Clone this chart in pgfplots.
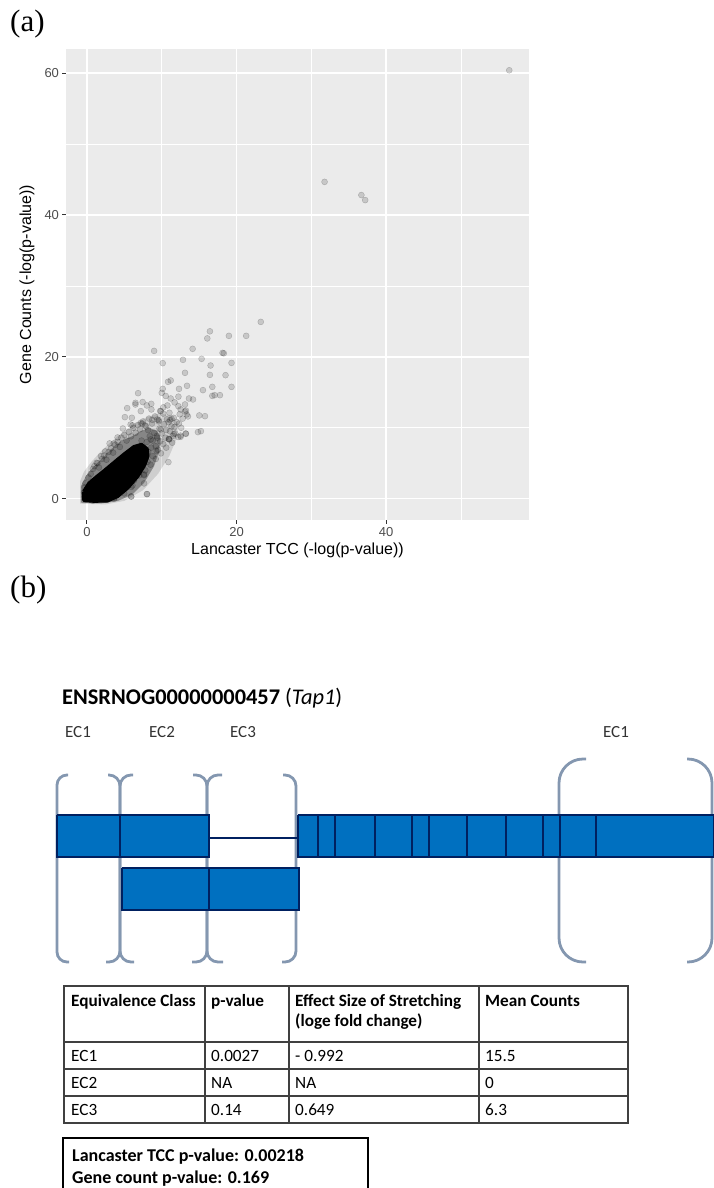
\documentclass[border=0pt]{standalone}
\usepackage{fontspec}
\usepackage{pgfplots}
\pgfplotsset{compat=1.18}
\setmainfont{Liberation Sans}
\newfontfamily\carlito{Carlito}
\newfontfamily\tnr{Liberation Serif}
\definecolor{panelbg}{HTML}{EBEBEB}
\definecolor{ticktext}{HTML}{4D4D4D}
\definecolor{exonfill}{HTML}{0070C0}
\definecolor{exonedge}{HTML}{002060}
\definecolor{bracket}{HTML}{8497B0}
\definecolor{tabline}{HTML}{404040}

\begin{document}
\begin{tikzpicture}[
  exon/.style={fill=exonfill, draw=exonedge, line width=2.6pt, line join=miter, mark=none},
  br/.style={draw=bracket, line width=2.8pt},
  tl/.style={draw=tabline, line width=1.3pt}]
\node[anchor=base west,font=\tnr\fontsize{31}{31}\selectfont,inner sep=0] at (10pt,-32pt) {(a)};

% ---- (a) scatter ----
\begin{axis}[
  at={(66pt,-520pt)}, anchor=south west,
  scale only axis, width=463pt, height=471pt,
  xmin=-2.8, xmax=59.1, ymin=-3.0, ymax=63.4,
  axis background/.style={fill=panelbg},
  axis line style={draw=none},
  xtick={0,20,40}, ytick={0,20,40,60},
  minor xtick={10,30,50}, minor ytick={10,30,50},
  grid=both,
  major grid style={white, line width=1.4pt},
  minor grid style={white, line width=0.7pt},
  tick pos=left,
  tick align=outside, major tick length=3.5pt, minor tick length=0pt,
  tick style={color=black!80, line width=1pt},
  tick label style={font=\fontsize{13}{13}\selectfont, text=ticktext},
  /pgf/number format/assume math mode=true,
  label style={font=\fontsize{16}{16}\selectfont},
  xlabel={Lancaster TCC (-log(p-value))},
  ylabel={Gene Counts (-log(p-value))},
  xlabel style={at={(axis description cs:0.5,-0.0637)}, anchor=center},
  ylabel style={at={(axis description cs:-0.0842,0.5)}, anchor=center},
]
% outer halo of the dense cluster
\addplot[fill=black, fill opacity=0.12, draw=none] coordinates {
(-0.9,2.5) (-0.9,-0.7) (2.5,-0.8) (5,-0.3) (7.5,1.2) (9.5,3.5) (11,6) (12,8.5)
(12.2,10.5) (11.2,11.8) (9.5,12) (8,11.5) (6.5,10.6) (4.8,9.4) (3.2,8) (1.8,6.6)
(0.6,5.2) (-0.4,3.8) (-0.9,2.5)};
% mid halo
\addplot[fill=black, fill opacity=0.35, draw=none] coordinates {
(-0.8,1.78) (-0.8,-0.56) (1.87,-0.66) (4.09,-0.33) (6.09,0.61) (7.64,2.25)
(8.98,4.6) (9.64,6.71) (9.87,8.36) (9.42,9.53) (8.31,10.0) (7.2,9.53) (6.09,8.83)
(4.53,8.12) (3.2,6.95) (1.87,5.54) (0.76,4.37) (-0.13,3.19) (-0.8,1.78)};
% saturated core
\addplot[fill=black, draw=black, line width=4pt, line join=round] coordinates {
(-0.4,1.0) (-0.4,-0.2) (0.98,-0.3) (2.76,-0.25) (4.09,0.38) (5.42,1.55) (6.76,3.19)
(7.7,4.84) (8.1,6.01) (8.0,7.0) (7.3,7.6) (6.31,7.3) (4.98,6.24) (3.64,5.07)
(2.31,3.9) (1.2,2.96) (0.31,2.16) (-0.4,1.0)};
% individual genes
\addplot[only marks, mark=*, mark size=3pt,
  mark options={fill=black, fill opacity=0.15, draw=black, draw opacity=0.22, line width=0.4pt}]
coordinates {
(56.46,60.4) (31.77,44.67) (36.69,42.81) (37.2,42.1)
(23.24,24.93) (16.44,23.6) (16.09,22.6) (18.98,22.96) (21.29,22.96) (8.98,20.84)
(14.13,21.13) (18.13,20.56) (18.3,20.5) (15.33,19.72) (12.84,19.58) (10.13,19.11)
(19.33,19.15) (16.53,18.78) (13.11,17.75) (11.2,16.67) (10.84,16.48) (16.44,17.46)
(18.53,17.42) (13.38,15.92) (12.31,15.49) (10.13,15.49) (10.0,14.93) (15.51,15.31)
(16.76,15.77) (19.33,15.77) (17.78,14.6) (17.07,14.6) (16.76,14.5) (6.84,14.88)
(5.38,12.77) (6.49,13.52) (8.0,13.15) (8.62,12.58) (5.07,11.5) (6.0,11.41) (4.8,9.9)
(7.2,12.35) (11.2,14.13) (14.18,13.99) (13.64,14.13) (13.11,13.29) (12.22,13.05)
(10.76,13.15) (9.87,12.35) (11.11,11.08) (13.33,11.88) (12.53,12.58) (15.02,11.74)
(15.78,11.64) (14.84,9.39) (15.24,9.53) (13.24,9.15) (12.53,8.73) (11.6,9.11)
(10.98,8.36) (9.33,6.71) (10.89,5.16) (7.64,3.43) (7.64,2.16) (6.09,1.88) (5.64,2.72)
(8.0,0.66) (5.91,0.33) (3.64,0.0) (2.76,0.14) (4.98,0.75) (4.53,1.36) (2.62,2.3)
(1.29,5.07) (1.87,6.0) (2.44,6.67) (3.6,7.79) (4.09,8.64) (6.09,10.33) (7.2,10.7)
(7.78,10.33) (8.18,9.67) (9.42,11.17) (9.33,8.83) (9.87,9.77) (8.53,8.36)
(12.23,14.39) (10.53,14.49) (11.72,13.58) (10.21,12.88) (9.79,12.37) (11.03,12.12)
(13.24,12.42) (11.31,11.27) (9.61,11.07) (8.74,11.12) (12.51,8.9) (13.2,9.2)
(11.49,8.85) (7.45,13.63) (8.6,13.38) (6.48,13.28) (5.84,10.46) (7.4,10.56)
(10.94,8.45) (3.03,7.8) (6.8,3.67) (7.63,3.32) (8.05,0.65) (5.93,0.3) (5.93,1.66)
(4.78,1.71) (3.68,0.15) (2.76,0.2) (5.38,2.97) (5.98,2.92)
(0.2,3.0) (0.5,3.5) (0.8,4.2) (1.0,4.6) (1.4,5.0) (1.6,4.4) (2.0,5.6) (2.3,6.1)
(2.6,5.5) (2.9,6.6) (3.2,7.1) (3.5,6.5) (3.8,7.6) (4.1,8.0) (4.4,7.3) (4.6,8.6)
(5.0,9.0) (5.3,8.2) (5.6,9.4) (5.9,8.8) (6.2,10.0) (6.5,9.3) (6.8,10.4) (7.1,9.8)
(7.5,10.9) (7.9,10.2) (8.3,11.3) (8.7,10.6) (9.1,11.6) (9.6,10.9) (10.2,12.0) (10.7,11.2)
(2.0,0.1) (2.5,0.6) (3.0,0.9) (3.4,0.4) (3.8,1.3) (4.3,1.8) (4.7,1.1) (5.1,2.4)
(5.5,2.0) (5.9,3.1) (6.3,2.6) (6.7,3.9) (7.0,3.3) (7.4,4.5) (7.8,4.0) (8.1,5.2)
(8.5,4.8) (8.8,6.0) (9.2,5.6) (9.5,6.9) (9.9,6.4) (10.2,7.7) (10.6,7.2) (11.0,8.4)
(11.4,7.9) (11.8,9.2) (12.2,8.7) (12.6,10.0)
(8.0,8.0) (8.4,8.8) (8.8,8.2) (9.0,9.3) (9.4,8.6) (9.7,9.9) (10.0,9.2) (10.3,10.5)
(10.6,9.7) (10.9,10.8) (11.3,10.2) (11.6,11.4) (12.0,10.8) (12.4,11.9) (12.8,11.3)
(13.1,12.3) (13.5,11.6) (9.2,7.4) (9.8,8.1) (10.5,8.6) (11.1,9.5) (11.7,10.1)
(12.3,10.6) (7.6,7.0) (8.6,7.2) (7.3,8.2) (6.9,6.5) (8.2,6.6)
(0.8,-0.3) (1.2,-0.2) (1.6,-0.1) (-0.3,0.3) (-0.4,0.9) (-0.3,1.6) (-0.2,2.2)
};
\end{axis}

% ---- (b) gene model, table, box (axis units = pixels, y negative downwards) ----
\begin{axis}[
  at={(0pt,-1188pt)}, anchor=south west,
  scale only axis, width=713pt, height=628pt,
  xmin=0, xmax=713, ymin=-1188, ymax=-560,
  hide axis, clip=false,
]
\node[anchor=base west,font=\tnr\fontsize{31}{31}\selectfont,inner sep=0] at (10,-597) {(b)};
\node[anchor=base west,font=\carlito\fontsize{22.4}{22.4}\selectfont,inner sep=0] at (62,-704)
  {\textbf{ENSRNOG00000000457} (\textit{Tap1})};
\node[anchor=base,font=\carlito\fontsize{17}{17}\selectfont,text=black!80,inner sep=0] at (78,-737.5) {EC1};
\node[anchor=base,font=\carlito\fontsize{17}{17}\selectfont,text=black!80,inner sep=0] at (162,-737.5) {EC2};
\node[anchor=base,font=\carlito\fontsize{17}{17}\selectfont,text=black!80,inner sep=0] at (243,-737.5) {EC3};
\node[anchor=base,font=\carlito\fontsize{17}{17}\selectfont,text=black!80,inner sep=0] at (616,-737.5) {EC1};

% brackets
\draw[br, rounded corners=10pt] (68,-775) -| (57,-962) -- (69,-962);
\draw[br, rounded corners=11pt] (108,-775) -| (120,-962) -- (106,-962);
\draw[br, rounded corners=11pt] (133,-775) -| (120,-962) -- (134,-962);
\draw[br, rounded corners=11pt] (193,-775) -| (207,-962) -- (192,-962);
\draw[br, rounded corners=11pt] (222,-775) -| (207,-962) -- (223,-962);
\draw[br, rounded corners=11pt] (283,-775) -| (296,-962) -- (282,-962);
\draw[br, rounded corners=24pt] (586,-759) -| (559,-962) -- (586,-962);
\draw[br, rounded corners=24pt] (687,-759) -| (712,-962) -- (687,-962);

% intron
\addplot[exonedge, line width=2.6pt, mark=none] coordinates {(209,-838) (298,-838)};
% exons, row 1
\addplot[exon] coordinates {(57,-815) (120,-815) (120,-857) (57,-857) (57,-815)};
\addplot[exon] coordinates {(120,-815) (209,-815) (209,-857) (120,-857) (120,-815)};
\addplot[exon] coordinates {(298,-815) (318,-815) (318,-857) (298,-857) (298,-815)};
\addplot[exon] coordinates {(318,-815) (335,-815) (335,-857) (318,-857) (318,-815)};
\addplot[exon] coordinates {(335,-815) (375,-815) (375,-857) (335,-857) (335,-815)};
\addplot[exon] coordinates {(375,-815) (412,-815) (412,-857) (375,-857) (375,-815)};
\addplot[exon] coordinates {(412,-815) (429,-815) (429,-857) (412,-857) (412,-815)};
\addplot[exon] coordinates {(429,-815) (467,-815) (467,-857) (429,-857) (429,-815)};
\addplot[exon] coordinates {(467,-815) (506,-815) (506,-857) (467,-857) (467,-815)};
\addplot[exon] coordinates {(506,-815) (543,-815) (543,-857) (506,-857) (506,-815)};
\addplot[exon] coordinates {(543,-815) (560,-815) (560,-857) (543,-857) (543,-815)};
\addplot[exon] coordinates {(560,-815) (596,-815) (596,-857) (560,-857) (560,-815)};
\addplot[exon] coordinates {(596,-815) (714,-815) (714,-857) (596,-857) (596,-815)};
% exons, row 2
\addplot[exon] coordinates {(122,-868) (209,-868) (209,-910) (122,-910) (122,-868)};
\addplot[exon] coordinates {(209,-868) (299,-868) (299,-910) (209,-910) (209,-868)};

% table
\draw[tl] (64,-986) rectangle (628,-1123);
\draw[tl] (64,-1042) -- (628,-1042);
\draw[tl] (64,-1069) -- (628,-1069);
\draw[tl] (64,-1096) -- (628,-1096);
\draw[tl] (205,-986) -- (205,-1123);
\draw[tl] (289,-986) -- (289,-1123);
\draw[tl] (479,-986) -- (479,-1123);
\node[anchor=base west,font=\carlito\bfseries\fontsize{17.2}{17.2}\selectfont,inner sep=0] at (71,-1006.5) {Equivalence Class};
\node[anchor=base west,font=\carlito\bfseries\fontsize{17.2}{17.2}\selectfont,inner sep=0] at (211,-1006.5) {p-value};
\node[anchor=base west,font=\carlito\bfseries\fontsize{17.2}{17.2}\selectfont,inner sep=0] at (295,-1006.5) {Effect Size of Stretching};
\node[anchor=base west,font=\carlito\bfseries\fontsize{17.2}{17.2}\selectfont,inner sep=0] at (295,-1026.5) {(loge fold change)};
\node[anchor=base west,font=\carlito\bfseries\fontsize{17.2}{17.2}\selectfont,inner sep=0] at (485,-1006.5) {Mean Counts};
\node[anchor=base west,font=\carlito\fontsize{17.2}{17.2}\selectfont,inner sep=0] at (71,-1061.5) {EC1};
\node[anchor=base west,font=\carlito\fontsize{17.2}{17.2}\selectfont,inner sep=0] at (211,-1061.5) {0.0027};
\node[anchor=base west,font=\carlito\fontsize{17.2}{17.2}\selectfont,inner sep=0] at (295,-1061.5) {- 0.992};
\node[anchor=base west,font=\carlito\fontsize{17.2}{17.2}\selectfont,inner sep=0] at (485,-1061.5) {15.5};
\node[anchor=base west,font=\carlito\fontsize{17.2}{17.2}\selectfont,inner sep=0] at (71,-1088.5) {EC2};
\node[anchor=base west,font=\carlito\fontsize{17.2}{17.2}\selectfont,inner sep=0] at (211,-1088.5) {NA};
\node[anchor=base west,font=\carlito\fontsize{17.2}{17.2}\selectfont,inner sep=0] at (295,-1088.5) {NA};
\node[anchor=base west,font=\carlito\fontsize{17.2}{17.2}\selectfont,inner sep=0] at (485,-1088.5) {0};
\node[anchor=base west,font=\carlito\fontsize{17.2}{17.2}\selectfont,inner sep=0] at (71,-1115.5) {EC3};
\node[anchor=base west,font=\carlito\fontsize{17.2}{17.2}\selectfont,inner sep=0] at (211,-1115.5) {0.14};
\node[anchor=base west,font=\carlito\fontsize{17.2}{17.2}\selectfont,inner sep=0] at (295,-1115.5) {0.649};
\node[anchor=base west,font=\carlito\fontsize{17.2}{17.2}\selectfont,inner sep=0] at (485,-1115.5) {6.3};

% summary box
\draw[black, line width=2.5pt] (63,-1195) |- (368,-1138) -- (368,-1195);
\node[anchor=base west,font=\carlito\bfseries\fontsize{18}{18}\selectfont,inner sep=0] at (72,-1161) {Lancaster TCC p-value: 0.00218};
\node[anchor=base west,font=\carlito\bfseries\fontsize{18}{18}\selectfont,inner sep=0] at (72,-1183) {Gene count p-value: 0.169};
\end{axis}
\pgfresetboundingbox
\useasboundingbox (0pt,0pt) rectangle (713pt,-1188pt);
\end{tikzpicture}
\end{document}
